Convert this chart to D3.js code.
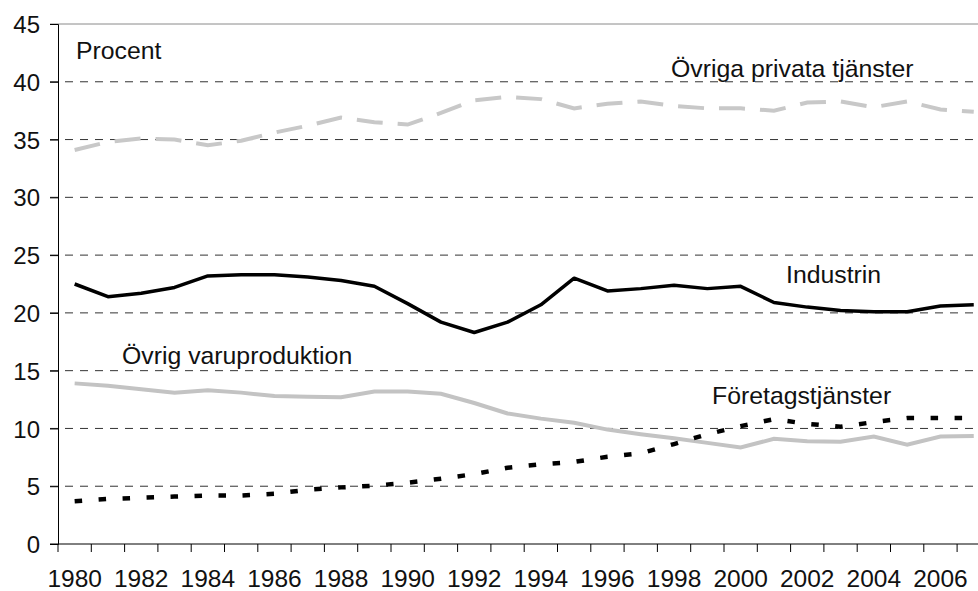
<!DOCTYPE html>
<html>
<head>
<meta charset="utf-8">
<script src="https://cdn.jsdelivr.net/npm/d3@7"></script>
<style>
  body { margin: 0; background: #fff; }
  svg text { font-family: "Liberation Sans", Arial, sans-serif; fill: #111; }
</style>
</head>
<body>
<div id="chart"></div>
<script>
var years = d3.range(1980, 2008);
var labelYears = d3.range(1980, 2008, 2);
var yTicks = [0, 5, 10, 15, 20, 25, 30, 35, 40, 45];

// andel i procent
var industrin = [22.5, 21.4, 21.7, 22.2, 23.2, 23.3, 23.3, 23.1, 22.8, 22.3,
                 20.8, 19.2, 18.3, 19.2, 20.7, 23.0, 21.9, 22.1, 22.4, 22.1,
                 22.3, 20.9, 20.5, 20.2, 20.1, 20.1, 20.6, 20.7];
var privata = [34.1, 34.8, 35.1, 35.0, 34.5, 34.9, 35.6, 36.2, 36.9, 36.5,
               36.3, 37.3, 38.4, 38.7, 38.5, 37.7, 38.1, 38.3, 37.9, 37.7,
               37.7, 37.5, 38.2, 38.3, 37.8, 38.3, 37.6, 37.4];
var varuprod = [13.9, 13.7, 13.4, 13.1, 13.3, 13.1, 12.8, 12.75, 12.7, 13.2,
                13.2, 13.0, 12.2, 11.3, 10.85, 10.5, 9.9, 9.5, 9.15, 8.75,
                8.35, 9.1, 8.9, 8.85, 9.3, 8.6, 9.3, 9.35];
var foretag = [3.7, 3.9, 4.0, 4.1, 4.2, 4.2, 4.35, 4.7, 4.9, 5.05,
               5.3, 5.65, 6.05, 6.6, 6.9, 7.1, 7.55, 7.85, 8.65, 9.5,
               10.2, 10.8, 10.4, 10.15, 10.55, 10.9, 10.9, 10.9];

var width = 978, height = 591;
var plotLeft = 58, plotTop = 24, plotBottom = 544;

var svg = d3.select("#chart").append("svg")
  .attr("width", width)
  .attr("height", height);

var x = d3.scaleBand()
  .domain(years)
  .range([plotLeft, plotLeft + 28 * 33.3]);

var y = d3.scaleLinear()
  .domain([0, 45])
  .range([plotBottom, plotTop]);

var cx = function(d, i) { return x(years[i]) + x.bandwidth() / 2; };

// gridlines
svg.append("g").selectAll("line")
  .data(yTicks.filter(function(d) { return d > 0; }))
  .enter().append("line")
  .attr("x1", plotLeft - 8)
  .attr("x2", width)
  .attr("y1", function(d) { return y(d); })
  .attr("y2", function(d) { return y(d); })
  .attr("stroke", function(d) { return d == 45 ? "#8a8a8a" : "#333"; })
  .attr("stroke-width", 1)
  .attr("stroke-dasharray", function(d) { return d == 45 ? null : "8,7"; });

// y axis
var yAxis = svg.append("g")
  .attr("transform", "translate(" + plotLeft + ",0)")
  .call(d3.axisLeft(y).tickValues(yTicks).tickSize(8).tickPadding(10));
yAxis.select(".domain").attr("stroke", "#000");
yAxis.selectAll("text").style("font-size", "24px").attr("dy", "0.36em");

// x axis
svg.append("line")
  .attr("x1", plotLeft - 8).attr("x2", width)
  .attr("y1", plotBottom).attr("y2", plotBottom)
  .attr("stroke", "#000");

svg.append("g").selectAll("line")
  .data(years)
  .enter().append("line")
  .attr("x1", function(d) { return x(d); })
  .attr("x2", function(d) { return x(d); })
  .attr("y1", plotBottom)
  .attr("y2", plotBottom + 8)
  .attr("stroke", "#000");

svg.append("g").selectAll("text")
  .data(labelYears)
  .enter().append("text")
  .attr("x", function(d) { return x(d) + x.bandwidth() / 2; })
  .attr("y", 587)
  .attr("text-anchor", "middle")
  .style("font-size", "24.5px")
  .text(function(d) { return d; });

// series
var line = d3.line()
  .x(cx)
  .y(function(d) { return y(d); });

svg.append("path").datum(varuprod)
  .attr("d", line).attr("fill", "none")
  .attr("stroke", "#c3c3c3").attr("stroke-width", 4);

svg.append("path").datum(privata)
  .attr("d", line).attr("fill", "none")
  .attr("stroke", "#c8c8c8").attr("stroke-width", 4)
  .attr("stroke-dasharray", "26,15");

svg.append("path").datum(industrin)
  .attr("d", line).attr("fill", "none")
  .attr("stroke", "#000").attr("stroke-width", 3.5)
  .attr("stroke-linejoin", "round");

svg.append("path").datum(foretag)
  .attr("d", line).attr("fill", "none")
  .attr("stroke", "#000").attr("stroke-width", 4.5)
  .attr("stroke-dasharray", "7.5,16.5");

// labels
var labels = [
  {t: "Procent", x: 76, y: 59},
  {t: "Övriga privata tjänster", x: 671, y: 77},
  {t: "Industrin", x: 786, y: 283},
  {t: "Övrig varuproduktion", x: 122, y: 364},
  {t: "Företagstjänster", x: 712, y: 404}
];
svg.append("g").selectAll("text")
  .data(labels)
  .enter().append("text")
  .attr("x", function(d) { return d.x; })
  .attr("y", function(d) { return d.y; })
  .style("font-size", "24.8px")
  .text(function(d) { return d.t; });
</script>
</body>
</html>
